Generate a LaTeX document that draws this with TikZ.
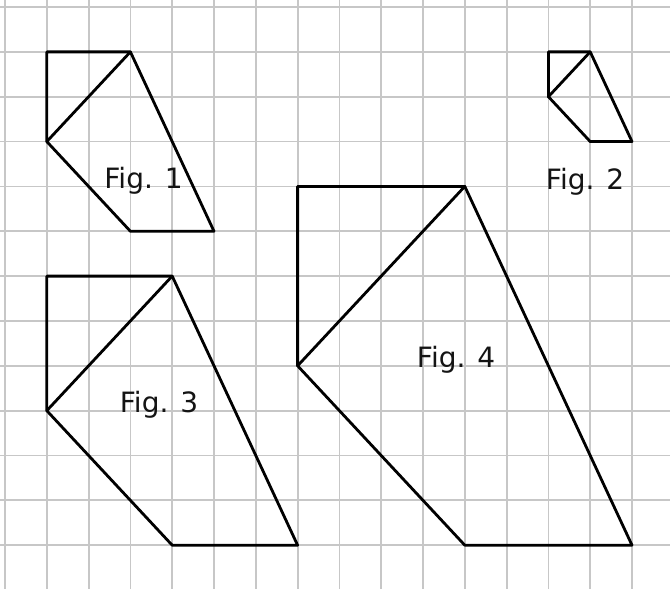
\documentclass[tikz,border=0pt]{standalone}
\usepackage{fontspec}
\setmainfont{DejaVu Sans}
\begin{document}
\begin{tikzpicture}[x=41.8pt,y=-44.85pt,
  gridline/.style={draw=black!22,line width=1.8pt},
  figline/.style={draw=black,line width=2.8pt,line join=round,line cap=round},
  figlabel/.style={anchor=base,inner sep=0pt,text=black!92,font=\fontsize{28}{34}\selectfont}]
\useasboundingbox (-0.1196,-0.156) rectangle (15.909,12.977);
\fill[white] (-0.1196,-0.156) rectangle (15.909,12.977);
\foreach \i in {0,...,15} \draw[gridline] (\i,-0.156) -- (\i,12.977);
\foreach \j in {0,...,12} \draw[gridline] (-0.1196,\j) -- (15.909,\j);
% Fig. 1
\coordinate (a1) at (1,1); \coordinate (b1) at (3,1); \coordinate (c1) at (5,5);
\coordinate (d1) at (3,5); \coordinate (e1) at (1,3);
\draw[figline] (a1) -- (b1) -- (c1) -- (d1) -- (e1) -- cycle;
\draw[figline] (e1) -- (b1);
% Fig. 2
\coordinate (a2) at (13,1); \coordinate (b2) at (14,1); \coordinate (c2) at (15,3);
\coordinate (d2) at (14,3); \coordinate (e2) at (13,2);
\draw[figline] (a2) -- (b2) -- (c2) -- (d2) -- (e2) -- cycle;
\draw[figline] (e2) -- (b2);
% Fig. 3
\coordinate (a3) at (1,6); \coordinate (b3) at (4,6); \coordinate (c3) at (7,12);
\coordinate (d3) at (4,12); \coordinate (e3) at (1,9);
\draw[figline] (a3) -- (b3) -- (c3) -- (d3) -- (e3) -- cycle;
\draw[figline] (e3) -- (b3);
% Fig. 4
\coordinate (a4) at (7,4); \coordinate (b4) at (11,4); \coordinate (c4) at (15,12);
\coordinate (d4) at (11,12); \coordinate (e4) at (7,8);
\draw[figline] (a4) -- (b4) -- (c4) -- (d4) -- (e4) -- cycle;
\draw[figline] (e4) -- (b4);
% labels
\node[figlabel] (l1) at (3.313,4.036) {Fig. 1};
\node[figlabel] (l2) at (13.876,4.080) {Fig. 2};
\node[figlabel] (l3) at (3.684,9.052) {Fig. 3};
\node[figlabel] (l4) at (10.79,8.027) {Fig. 4};
\end{tikzpicture}
\end{document}
